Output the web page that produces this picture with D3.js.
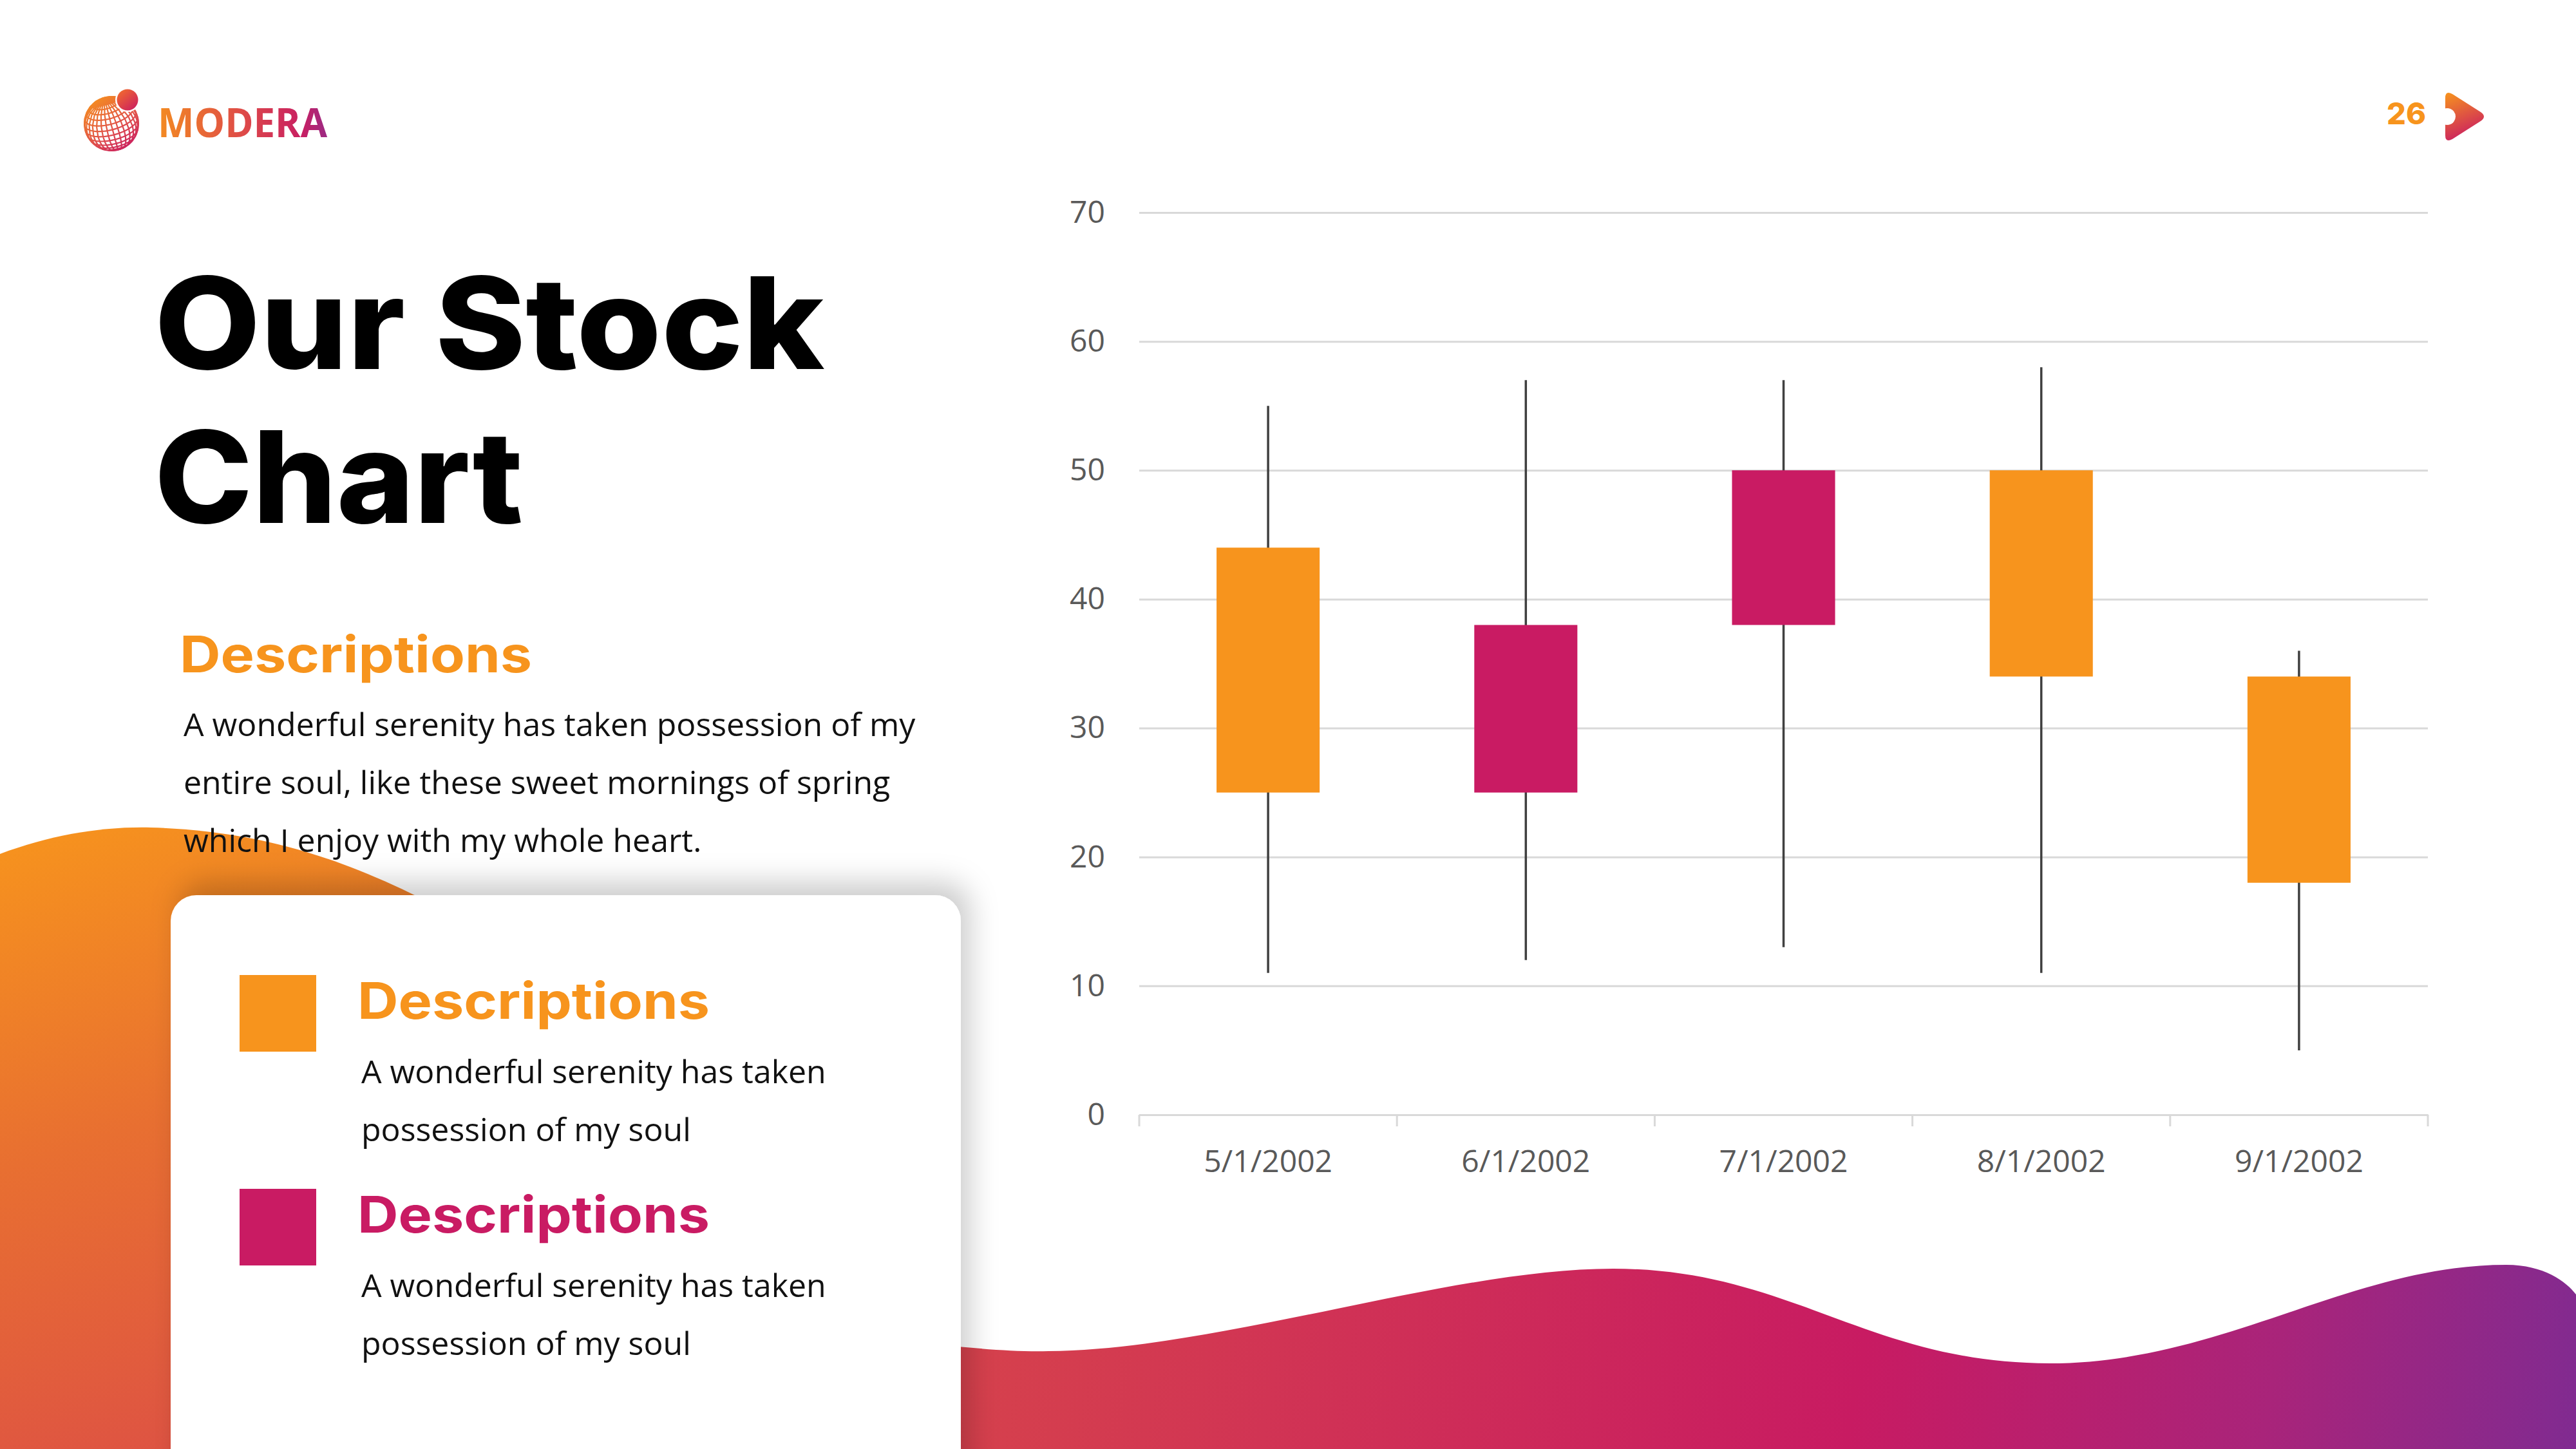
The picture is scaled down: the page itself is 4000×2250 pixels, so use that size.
<!DOCTYPE html>
<html>
<head>
<meta charset="utf-8">
<script src="https://cdn.jsdelivr.net/npm/d3@7"></script>
<style>
  html, body { margin: 0; padding: 0; background: #ffffff; }
  svg { display: block; }
</style>
</head>
<body>
<script>
// ---- Data ----
const dates = ["5/1/2002", "6/1/2002", "7/1/2002", "8/1/2002", "9/1/2002"];
const openVals = [44, 25, 38, 50, 34];
const highVals = [55, 57, 57, 58, 36];
const lowVals = [11, 12, 13, 11, 5];
const closeVals = [25, 38, 50, 34, 18];
const yTicks = [0, 10, 20, 30, 40, 50, 60, 70];

const titleLines = ["Our Stock", "Chart"];
const descHeading = "Descriptions";
const descLines = [
  "A wonderful serenity has taken possession of my",
  "entire soul, like these sweet mornings of spring",
  "which I enjoy with my whole heart."
];
const legendLabels = ["Descriptions", "Descriptions"];
const legendBody = ["A wonderful serenity has taken", "possession of my soul"];
const brand = "MODERA";
const pageNum = "26";

const ORANGE = "#F7941D", MAGENTA = "#C91B63";

const W = 4000, H = 2250;
const svg = d3.select("body").append("svg").attr("width", W).attr("height", H);
const defs = svg.append("defs");

function linGrad(id, x1, y1, x2, y2, stops) {
  const g = defs.append("linearGradient").attr("id", id)
    .attr("gradientUnits", "userSpaceOnUse")
    .attr("x1", x1).attr("y1", y1).attr("x2", x2).attr("y2", y2);
  stops.forEach(s => g.append("stop").attr("offset", s[0]).attr("stop-color", s[1]));
}
linGrad("blobGrad", 0, 1290, 300, 2250, [[0, "#F7941D"], [0.5, "#E86F31"], [1, "#DE5343"]]);
linGrad("waveGrad", 1500, 1950, 4000, 2400, [[0, "#D6424C"], [0.55, "#C81B62"], [0.8, "#A9247A"], [1, "#7E2B92"]]);
linGrad("brandGrad", 247, 0, 508, 0, [[0, "#F38A22"], [0.5, "#DE4A48"], [0.85, "#C81F62"], [1, "#9B2A85"]]);
linGrad("globeGrad", 140, 150, 200, 235, [[0, "#F7941D"], [0.6, "#E0504A"], [1, "#C81B62"]]);
linGrad("ballGrad", 185, 140, 212, 172, [[0, "#F26A2E"], [1, "#C91B63"]]);
linGrad("arrowGrad", 3800, 143, 3830, 218, [[0, "#F7941D"], [1, "#C91B63"]]);

const shadow = defs.append("filter").attr("id", "cardShadow")
  .attr("x", "-20%").attr("y", "-20%").attr("width", "140%").attr("height", "140%");
shadow.append("feDropShadow").attr("dx", 14).attr("dy", -20).attr("stdDeviation", 22)
  .attr("flood-color", "#000").attr("flood-opacity", 0.2);

// ---- Background shapes ----
svg.append("path")
  .attr("d", "M0,1326 C80,1296 160,1283 235,1285 C400,1290 540,1330 720,1430 L720,2250 L0,2250 Z")
  .attr("fill", "url(#blobGrad)");

svg.append("path")
  .attr("d", "M1300,2075 C1450,2085 1540,2100 1628,2098 C1900,2095 2250,1970 2505,1970 " +
             "C2780,1970 2900,2117 3183,2117 C3450,2117 3650,1964 3892,1964 " +
             "C3950,1964 3985,1990 4000,2010 L4000,2250 L1300,2250 Z")
  .attr("fill", "url(#waveGrad)");

// ---- Card ----
svg.append("rect")
  .attr("x", 265).attr("y", 1390).attr("width", 1227).attr("height", 1000).attr("rx", 40)
  .attr("fill", "#ffffff").attr("filter", "url(#cardShadow)");

// ---- Logo ----
const globe = svg.append("g");
const proj = d3.geoOrthographic().scale(42).translate([173, 192]).rotate([-25, -25, 15]).clipAngle(90);
const gpath = d3.geoPath(proj);
globe.append("path").datum(d3.geoGraticule().step([12, 12])())
  .attr("d", gpath).attr("fill", "none").attr("stroke", "url(#globeGrad)").attr("stroke-width", 2.2);
globe.append("path").datum({ type: "Sphere" })
  .attr("d", gpath).attr("fill", "none").attr("stroke", "url(#globeGrad)").attr("stroke-width", 2);
globe.append("circle").attr("cx", 198).attr("cy", 155).attr("r", 19).attr("fill", "#fff");
globe.append("circle").attr("cx", 198).attr("cy", 155).attr("r", 16.5).attr("fill", "url(#ballGrad)");

svg.append("text").text(brand)
  .attr("x", 245).attr("y", 213)
  .attr("font-family", "'Open Sans', sans-serif").attr("font-weight", 700).attr("font-size", 62)
  .attr("textLength", 263).attr("lengthAdjust", "spacingAndGlyphs")
  .attr("fill", "url(#brandGrad)");

// ---- Page number + arrow ----
svg.append("text").text(pageNum)
  .attr("x", 3767).attr("y", 193).attr("text-anchor", "end")
  .attr("font-family", "Inter, 'Open Sans', sans-serif").attr("font-weight", 800).attr("font-size", 47)
  .attr("fill", ORANGE);
svg.append("path")
  .attr("d", "M3797,152 Q3797,140 3808,146 L3852,174 Q3862,181 3852,188 L3808,216 Q3797,222 3797,210 Z")
  .attr("fill", "url(#arrowGrad)");
svg.append("circle").attr("cx", 3800).attr("cy", 181).attr("r", 13).attr("fill", "#fff");

// ---- Title ----
const titleBase = [573, 812];
const titleWidths = [1040, 572];
titleLines.forEach((t, i) => {
  svg.append("text").text(t)
    .attr("x", 240).attr("y", titleBase[i])
    .attr("font-family", "Inter, 'Noto Sans', sans-serif").attr("font-weight", 800).attr("font-size", 198)
    .attr("textLength", titleWidths[i]).attr("lengthAdjust", "spacingAndGlyphs")
    .attr("fill", "#000");
});

// ---- Description block ----
svg.append("text").text(descHeading)
  .attr("x", 279).attr("y", 1044)
  .attr("font-family", "Inter, 'Noto Sans', sans-serif").attr("font-weight", 700).attr("font-size", 78)
  .attr("textLength", 547).attr("lengthAdjust", "spacingAndGlyphs")
  .attr("fill", ORANGE);
descLines.forEach((t, i) => {
  svg.append("text").text(t)
    .attr("x", 285).attr("y", 1143 + i * 90)
    .attr("font-family", "'Open Sans', sans-serif").attr("font-size", 50)
    .attr("fill", "#111");
});

// ---- Legend in card ----
const legendColors = [ORANGE, MAGENTA];
const legendTop = [1514, 1846];
legendLabels.forEach((lab, i) => {
  const y0 = legendTop[i];
  svg.append("rect").attr("x", 372).attr("y", y0).attr("width", 119).attr("height", 119)
    .attr("fill", legendColors[i]);
  svg.append("text").text(lab)
    .attr("x", 555).attr("y", y0 + 68)
    .attr("font-family", "Inter, 'Noto Sans', sans-serif").attr("font-weight", 700).attr("font-size", 78)
    .attr("textLength", 547).attr("lengthAdjust", "spacingAndGlyphs")
    .attr("fill", legendColors[i]);
  legendBody.forEach((t, j) => {
    svg.append("text").text(t)
      .attr("x", 561).attr("y", y0 + 168 + j * 90)
      .attr("font-family", "'Open Sans', sans-serif").attr("font-size", 50)
      .attr("fill", "#111");
  });
});

// ---- Chart ----
const plotLeft = 1769, plotRight = 3770, plotTop = 330, plotBottom = 1731;
const x = d3.scaleBand().domain(dates).range([plotLeft, plotRight]).paddingInner(0.6).paddingOuter(0.3);
const y = d3.scaleLinear().domain([0, 70]).range([plotBottom, plotTop]);

const chart = svg.append("g");

const yAxis = chart.append("g")
  .attr("transform", `translate(${plotLeft},0)`)
  .call(d3.axisLeft(y).tickValues(yTicks).tickSize(-(plotRight - plotLeft)).tickPadding(53));
yAxis.select(".domain").remove();
yAxis.selectAll(".tick line").attr("stroke", "#D9D9D9").attr("stroke-width", 3);
yAxis.selectAll(".tick text")
  .attr("font-family", "'Open Sans', sans-serif").attr("font-size", 48).attr("fill", "#595959");

const xAxis = chart.append("g")
  .attr("transform", `translate(0,${plotBottom})`)
  .call(d3.axisBottom(x).tickSize(0).tickPadding(55));
xAxis.select(".domain").attr("stroke", "#D9D9D9").attr("stroke-width", 3);
xAxis.selectAll(".tick text")
  .attr("font-family", "'Open Sans', sans-serif").attr("font-size", 48).attr("fill", "#595959");

// category boundary tick marks
const boundaries = dates.map(d => x(d) + x.bandwidth() / 2 - x.step() / 2)
  .concat([x(dates[dates.length - 1]) + x.bandwidth() / 2 + x.step() / 2]);
chart.append("g").selectAll("line").data(boundaries).join("line")
  .attr("x1", d => d).attr("x2", d => d)
  .attr("y1", plotBottom).attr("y2", plotBottom + 18)
  .attr("stroke", "#D9D9D9").attr("stroke-width", 3);

const candles = dates.map((d, i) => ({ d, o: openVals[i], h: highVals[i], l: lowVals[i], c: closeVals[i] }));

chart.append("g").selectAll("line").data(candles).join("line")
  .attr("x1", c => x(c.d) + x.bandwidth() / 2).attr("x2", c => x(c.d) + x.bandwidth() / 2)
  .attr("y1", c => y(c.h)).attr("y2", c => y(c.l))
  .attr("stroke", "#404040").attr("stroke-width", 3.5);

chart.append("g").selectAll("rect").data(candles).join("rect")
  .attr("x", c => x(c.d)).attr("width", x.bandwidth())
  .attr("y", c => y(Math.max(c.o, c.c)))
  .attr("height", c => y(Math.min(c.o, c.c)) - y(Math.max(c.o, c.c)))
  .attr("fill", c => c.c >= c.o ? MAGENTA : ORANGE);
</script>
</body>
</html>
